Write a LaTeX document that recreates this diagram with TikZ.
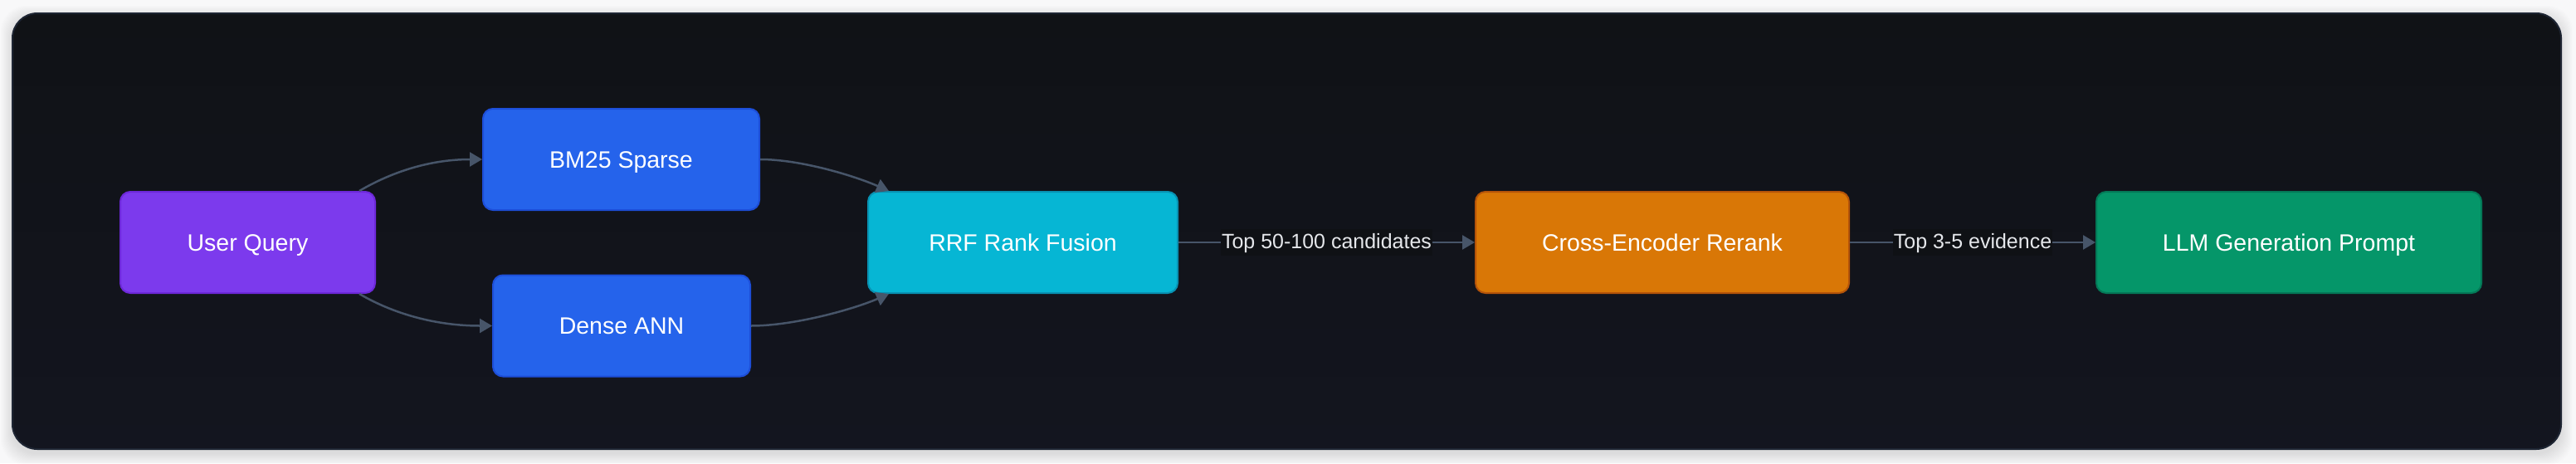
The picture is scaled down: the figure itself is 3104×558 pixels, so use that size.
\documentclass[tikz,border=0pt]{standalone}
\usepackage{fontspec}
\setmainfont{Liberation Sans}
\usetikzlibrary{arrows.meta,calc}
\definecolor{pagebg}{HTML}{F8F8F9}
\definecolor{cardtop}{HTML}{101216}
\definecolor{cardbot}{HTML}{13151F}
\definecolor{cardborder}{HTML}{1E2533}
\definecolor{lblbg}{HTML}{0F1115}
\definecolor{lbltext}{HTML}{E5E7EB}
\definecolor{edgecol}{HTML}{475569}
\definecolor{cpurple}{HTML}{7C3AED}
\definecolor{bpurple}{HTML}{6D28D9}
\definecolor{cblue}{HTML}{2563EB}
\definecolor{bblue}{HTML}{1D4ED8}
\definecolor{ccyan}{HTML}{06B6D4}
\definecolor{bcyan}{HTML}{0891B2}
\definecolor{corange}{HTML}{D97706}
\definecolor{borange}{HTML}{B45309}
\definecolor{cgreen}{HTML}{059669}
\definecolor{bgreen}{HTML}{047857}
\tikzset{
  box/.style={rectangle, rounded corners=12pt, line width=2pt, text=white,
    font=\fontsize{28.5}{34}\selectfont, inner sep=0pt, minimum height=122pt,
    text height=20pt, text depth=0pt},
  edge/.style={draw=edgecol, line width=2.5pt,
    -{Triangle[length=15pt,width=17pt]}},
  lbl/.style={fill=lblbg, text=lbltext, font=\fontsize{25}{30}\selectfont,
    inner xsep=1pt, inner ysep=6pt, text height=17pt, text depth=3pt}
}
\begin{document}
\begin{tikzpicture}[x=1pt,y=-1pt]
\useasboundingbox (0,0) rectangle (3104,558);
\fill[pagebg] (0,0) rectangle (3104,558);
% card shadow
\foreach \i in {1,...,14}{
  \fill[black, opacity=0.006, rounded corners=30pt]
    (15-\i,16-\i+5) rectangle (3086+\i,541+\i+5);
}
% card
\path[rounded corners=30pt, top color=cardtop, bottom color=cardbot,
  draw=cardborder, line width=2pt] (15,16) rectangle (3086,541);

% nodes
\node[box, fill=cpurple, draw=bpurple, minimum width=307pt] (uq) at (298.5,292) {User Query};
\node[box, fill=cblue, draw=bblue, minimum width=333pt] (bm) at (748.5,192) {BM25 Sparse};
\node[box, fill=cblue, draw=bblue, minimum width=310pt] (dn) at (749,392.5) {Dense ANN};
\node[box, fill=ccyan, draw=bcyan, minimum width=373pt] (rrf) at (1232.5,292) {RRF Rank Fusion};
\node[box, fill=corange, draw=borange, minimum width=450pt] (ce) at (2003,292) {Cross-Encoder Rerank};
\node[box, fill=cgreen, draw=bgreen, minimum width=464pt] (llm) at (2758,292) {LLM Generation Prompt};

% connectors
\draw[edge] ($(uq.north east)+(-20,0)$) .. controls (474,206) and (520,192) .. (bm.west);
\draw[edge] ($(uq.south east)+(-20,0)$) .. controls (474,378) and (525,392.5) .. (dn.west);
\draw[edge] (bm.east) .. controls (965,192) and (1030,212) .. ($(rrf.north west)+(26,0)$);
\draw[edge] (dn.east) .. controls (958,392.5) and (1030,372) .. ($(rrf.south west)+(26,0)$);
\draw[edge] (rrf.east) -- node[lbl] {Top 50-100 candidates} (ce.west);
\draw[edge] (ce.east) -- node[lbl] {Top 3-5 evidence} (llm.west);
\end{tikzpicture}
\end{document}
